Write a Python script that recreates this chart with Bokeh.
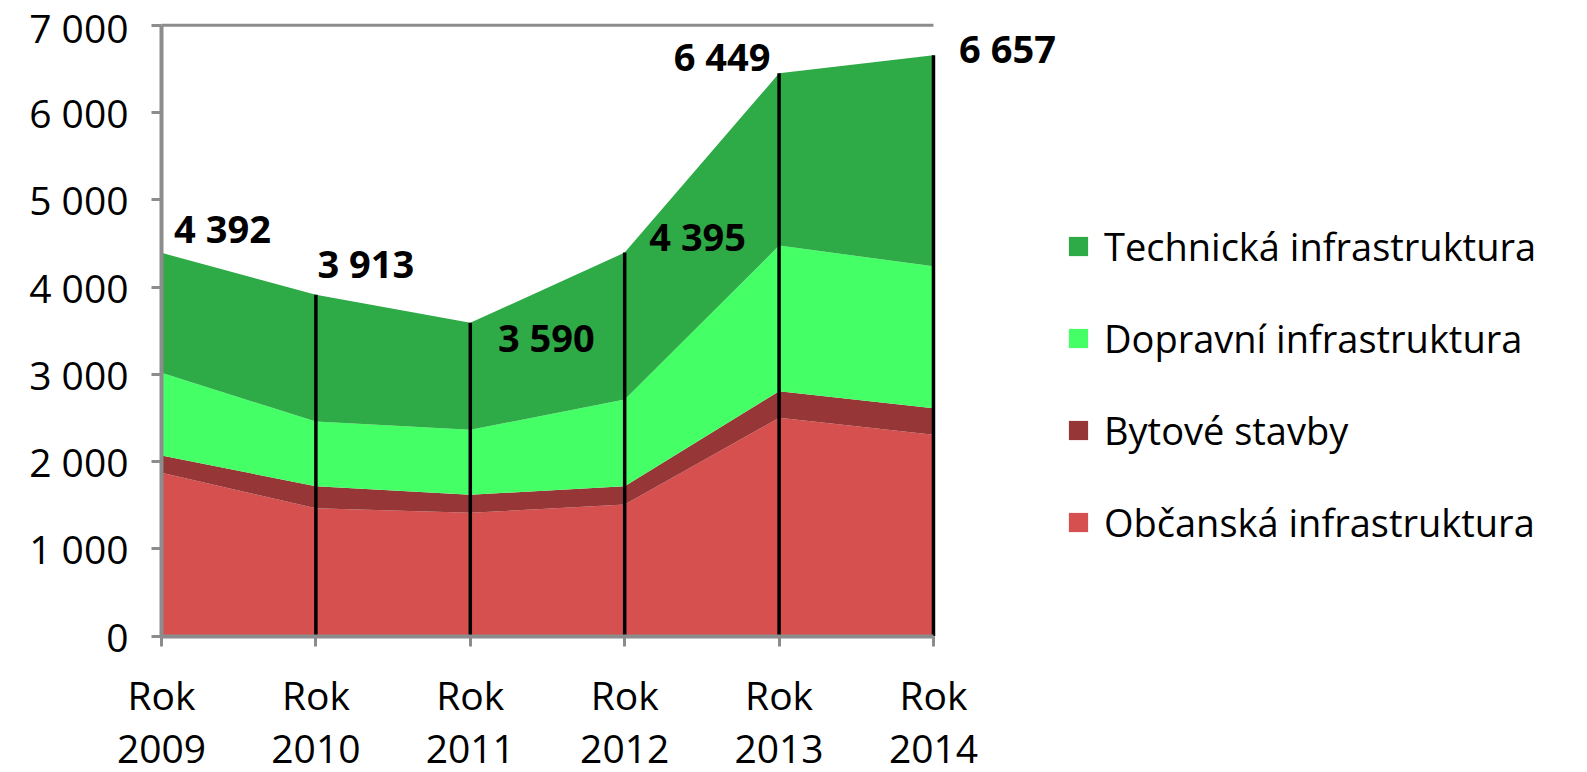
from bokeh.plotting import figure
from bokeh.models import Range1d, ColumnDataSource, Legend, LegendItem, FixedTicker
from bokeh.embed import file_html
from bokeh.resources import INLINE
from bokeh.core.properties import value

# ---- data ----
categories = ["Rok\n2009", "Rok\n2010", "Rok\n2011", "Rok\n2012", "Rok\n2013", "Rok\n2014"]
obcanska = [1872, 1466, 1413, 1509, 2502, 2307]
bytove = [198, 252, 207, 209, 305, 305]
dopravni = [947, 741, 744, 993, 1668, 1626]
technicka = [1375, 1454, 1226, 1684, 1974, 2419]
totals = [4392, 3913, 3590, 4395, 6449, 6657]
total_labels = ["4 392", "3 913", "3 590", "4 395", "6 449", "6 657"]
series_names = ["Občanská infrastruktura", "Bytové stavby",
                "Dopravní infrastruktura", "Technická infrastruktura"]
y_ticks = [0, 1000, 2000, 3000, 4000, 5000, 6000, 7000]
y_tick_labels = ["0", "1 000", "2 000", "3 000", "4 000", "5 000", "6 000", "7 000"]

# ---- styling / layout ----
colors = ["#D5504F", "#963636", "#44FF66", "#2EAA46"]
label_dx = [61, 50, 76, 73, -57, 74]
label_dy = [-25, -32, 14, -17, -17, -7]
FONT = "Open Sans"
AXIS_GRAY = "#8C8C8C"

x = list(range(len(categories)))
source = ColumnDataSource(dict(x=x, obc=obcanska, byt=bytove, dop=dopravni, tech=technicka))

# the frame spans the whole canvas; axes are pinned at 0 so that
# their labels are drawn inside it
p = figure(width=1587, height=772, output_backend="svg", toolbar_location=None,
           x_range=Range1d(-1.0427, 9.236), y_range=Range1d(-1561.5, 7283),
           min_border=0)
p.outline_line_color = None
p.xgrid.visible = False
p.ygrid.visible = False
p.background_fill_color = "white"
p.border_fill_color = "white"

areas = p.varea_stack(stackers=["obc", "byt", "dop", "tech"], x="x", color=colors, source=source)

# top border line at the maximum of the value axis
p.line(x=[x[0], x[-1]], y=[y_ticks[-1], y_ticks[-1]], line_color=AXIS_GRAY, line_width=3)

# drop lines at the categories
p.segment(x0=x[1:], y0=[0] * (len(x) - 1), x1=x[1:], y1=totals[1:],
          line_color="black", line_width=3.5)

p.text(x=x, y=totals, text=total_labels, x_offset=label_dx, y_offset=label_dy,
       text_font=value(FONT), text_font_style="bold", text_font_size="38px",
       text_align="center", text_baseline="middle", text_color="black")

# axes
p.xaxis.ticker = FixedTicker(ticks=x)
p.xaxis.major_label_overrides = {i: categories[i] for i in x}
p.xaxis.fixed_location = 0
p.xaxis.bounds = (x[0], x[-1])
p.yaxis.ticker = FixedTicker(ticks=y_ticks)
p.yaxis.major_label_overrides = {t: l for t, l in zip(y_ticks, y_tick_labels)}
p.yaxis.fixed_location = 0
p.yaxis.bounds = (y_ticks[0], y_ticks[-1])
for ax in (p.xaxis, p.yaxis):
    ax.axis_line_color = AXIS_GRAY
    ax.axis_line_width = 4
    ax.major_tick_line_color = AXIS_GRAY
    ax.major_tick_line_width = 3
    ax.major_tick_out = 10
    ax.major_tick_in = 0
    ax.minor_tick_line_color = None
    ax.major_label_text_font = FONT
    ax.major_label_text_font_size = "39px"
    ax.major_label_text_color = "black"
p.yaxis.major_label_standoff = 23
p.xaxis.major_label_standoff = 22
p.xaxis.major_label_text_line_height = 1.0

legend = Legend(items=[LegendItem(label=series_names[i], renderers=[areas[i]]) for i in (3, 2, 1, 0)],
                location=(1066, 224))
legend.label_text_font = FONT
legend.label_text_font_size = "38px"
legend.label_text_color = "black"
legend.glyph_width = 24
legend.glyph_height = 24
legend.label_standoff = 14
legend.spacing = 40
legend.padding = 0
legend.margin = 0
legend.border_line_color = None
legend.background_fill_alpha = 0
p.add_layout(legend)

open("out.html", "w").write(file_html(p, INLINE))
